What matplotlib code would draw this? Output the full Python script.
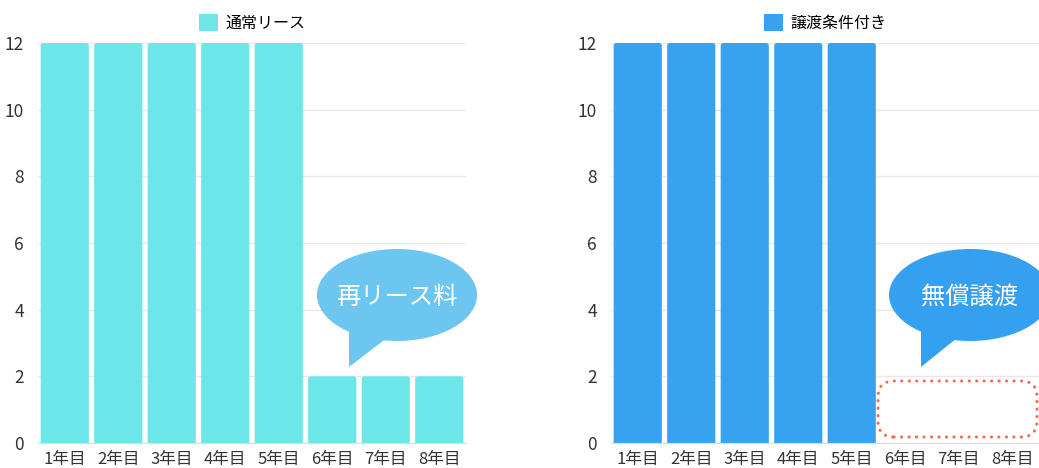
import matplotlib
matplotlib.use("Agg")
import matplotlib.pyplot as plt
from matplotlib.patches import FancyBboxPatch, Ellipse, Polygon, Patch

plt.rcParams['font.family'] = ['Noto Sans CJK JP', 'DejaVu Sans']

# --- data ---
years = ["1年目", "2年目", "3年目", "4年目", "5年目", "6年目", "7年目", "8年目"]
normal_lease = [12, 12, 12, 12, 12, 2, 2, 2]
transfer_lease = [12, 12, 12, 12, 12, 0, 0, 0]
y_ticks = [0, 2, 4, 6, 8, 10, 12]

normal_label = "通常リース"
transfer_label = "譲渡条件付き"
normal_bubble = "再リース料"
transfer_bubble = "無償譲渡"

cyan = "#6ce6e8"
blue = "#36a2f0"
bubble_light = "#6cc6ef"
bubble_dark = "#36a0f0"
dot_red = "#f26a4f"

W, H = 1039, 468
fig = plt.figure(figsize=(W / 100, H / 100), dpi=100)

def px_axes(x0, x1, ytop, ybot):
    return fig.add_axes([x0 / W, (H - ybot) / H, (x1 - x0) / W, (ybot - ytop) / H])

ax_l = px_axes(38, 466, 43, 443)
ax_r = px_axes(611, 1039, 43, 443)

BAR_W = 0.9
# x units ~53.5 px, y units ~33.3 px
ASPECT = 53.5 / 33.33


def draw_panel(ax, values, color, label):
    ax.set_xlim(-0.5, len(years) - 0.5)
    ax.set_ylim(0, 12)
    for i, v in enumerate(values):
        if v <= 0:
            continue
        p = FancyBboxPatch((i - BAR_W / 2, -0.3), BAR_W, v + 0.3,
                           boxstyle="round,pad=0,rounding_size=0.05",
                           mutation_aspect=ASPECT, facecolor=color,
                           edgecolor="none", zorder=2)
        ax.add_patch(p)
    ax.set_xticks(range(len(years)))
    ax.set_xticklabels(years)
    ax.set_yticks(y_ticks)
    ax.tick_params(axis='both', length=0, colors="#333333")
    ax.tick_params(axis='y', pad=10, labelsize=12.5)
    ax.tick_params(axis='x', pad=6, labelsize=12)
    ax.grid(axis='y', color="#e8e8e8", linewidth=1, zorder=0)
    for s in ("top", "right", "left"):
        ax.spines[s].set_visible(False)
    ax.spines["bottom"].set_color("#dddddd")
    ax.spines["bottom"].set_zorder(3)
    ax.set_axisbelow(True)
    ax.legend(handles=[Patch(facecolor=color, edgecolor="none", label=label)],
              loc="lower center", bbox_to_anchor=(0.5, 1.0), frameon=False,
              fontsize=11.5, handlelength=1.2, handleheight=1.2,
              handletextpad=0.45, borderaxespad=0.3)


draw_panel(ax_l, normal_lease, cyan, normal_label)
draw_panel(ax_r, transfer_lease, blue, transfer_label)


def bubble(ax, cx, cy, w, h, tail, color, text):
    # coordinates in pixels relative to axes left/bottom
    x0 = ax.get_position().x0 * W
    y0 = (1 - ax.get_position().y0) * H
    aw = ax.get_position().width * W
    ah = ax.get_position().height * H

    def tr(x, y):
        return ((x - x0) / aw, (y0 - y) / ah)

    e = Ellipse(tr(cx, cy), w / aw, h / ah, transform=ax.transAxes,
                facecolor=color, edgecolor="none", clip_on=False, zorder=4)
    ax.add_patch(e)
    poly = Polygon([tr(*p) for p in tail], closed=True, transform=ax.transAxes,
                   facecolor=color, edgecolor="none", clip_on=False, zorder=4)
    ax.add_patch(poly)
    tx, ty = tr(cx, cy + 2)
    ax.text(tx, ty, text, transform=ax.transAxes, color="white",
            fontsize=17.5, ha="center", va="center", zorder=5)


bubble(ax_l, 397, 295, 160, 92,
       [(349, 325), (349, 367), (392, 334), (385, 318)], bubble_light, normal_bubble)
bubble(ax_r, 970, 295, 162, 92,
       [(921, 325), (921, 367), (962, 334), (955, 318)], bubble_dark, transfer_bubble)

# dotted outline where the ownership transfers
rx0 = (878 - 611) / 53.5 - 0.5
rx1 = (1037 - 611) / 53.5 - 0.5
ry0 = (443 - 437) / 33.333
ry1 = (443 - 381) / 33.333
box = FancyBboxPatch((rx0, ry0), rx1 - rx0, ry1 - ry0,
                     boxstyle="round,pad=0,rounding_size=0.3",
                     mutation_aspect=ASPECT, facecolor="none",
                     edgecolor=dot_red, linewidth=2.2,
                     linestyle=(0, (0.05, 2.4)), capstyle="round",
                     clip_on=False, zorder=4)
ax_r.add_patch(box)

fig.savefig("out.png", dpi=100)
